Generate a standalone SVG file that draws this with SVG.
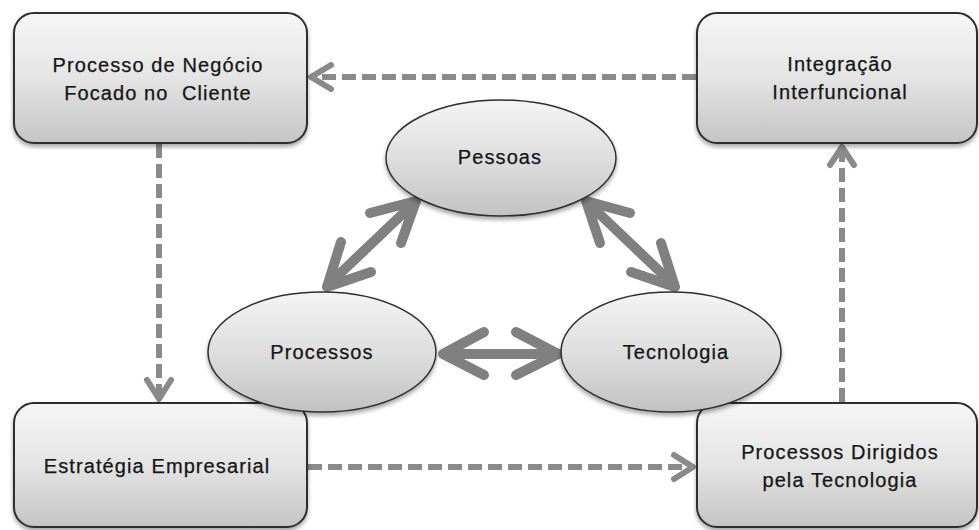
<svg xmlns="http://www.w3.org/2000/svg" width="979" height="530" viewBox="0 0 979 530">
  <defs>
    <linearGradient id="boxFill" x1="0" y1="0" x2="0" y2="1">
      <stop offset="0" stop-color="#f6f6f6"/>
      <stop offset="0.5" stop-color="#e4e4e4"/>
      <stop offset="1" stop-color="#c4c4c4"/>
    </linearGradient>
    <linearGradient id="ovalFill" x1="0" y1="0" x2="0" y2="1">
      <stop offset="0" stop-color="#f4f4f4"/>
      <stop offset="0.5" stop-color="#dedede"/>
      <stop offset="1" stop-color="#c2c2c2"/>
    </linearGradient>
    <filter id="shadow" x="-10%" y="-10%" width="120%" height="130%">
      <feGaussianBlur in="SourceAlpha" stdDeviation="2"/>
      <feOffset dx="0" dy="3" result="b"/>
      <feComponentTransfer><feFuncA type="linear" slope="0.35"/></feComponentTransfer>
      <feMerge><feMergeNode/><feMergeNode in="SourceGraphic"/></feMerge>
    </filter>
  </defs>
  <style>
    .box { fill: url(#boxFill); stroke: #2e2e2e; stroke-width: 2; filter: url(#shadow); }
    .oval { fill: url(#ovalFill); stroke: #2e2e2e; stroke-width: 1.5; filter: url(#shadow); }
    .label { font-family: "Liberation Sans", Arial, sans-serif; font-size: 20px; letter-spacing: 1.1px; fill: #151515; stroke: #151515; stroke-width: 0.25; text-anchor: middle; }
    .dash { fill: none; stroke: #8a8a8a; stroke-width: 6; stroke-dasharray: 14 6; }
    .head { fill: none; stroke: #8a8a8a; stroke-width: 6; stroke-linecap: round; stroke-linejoin: round; }
    .link { fill: none; stroke: #808080; stroke-width: 10; stroke-linecap: round; stroke-linejoin: round; }
  </style>
  <rect width="979" height="530" fill="#ffffff"/>

  <!-- dashed flow around the outer boxes, with the double arrows between the ovals -->
  <g id="connectors">
    <!-- Integração -> Processo de Negócio -->
    <line class="dash" x1="696" y1="77" x2="314" y2="77"/>
    <polyline class="head" points="331,65 311,77 331,89"/>
    <!-- Processo de Negócio -> Estratégia -->
    <line class="dash" x1="159" y1="144" x2="159" y2="396"/>
    <polyline class="head" points="147,380 159,399 171,380"/>
    <!-- Estratégia -> Processos Dirigidos -->
    <line class="dash" x1="308" y1="467" x2="690" y2="467"/>
    <polyline class="head" points="674,455 693,467 674,479"/>
    <!-- Processos Dirigidos -> Integração -->
    <line class="dash" x1="842" y1="402" x2="842" y2="150"/>
    <polyline class="head" points="830,165 842,147 854,165"/>

    <!-- Processos <-> Pessoas -->
    <line class="link" x1="328" y1="285" x2="414" y2="203"/>
    <polyline class="link" points="370,213 416,201 401,243"/>
    <polyline class="link" points="341,242 327,287 371,272"/>
    <!-- Pessoas <-> Tecnologia -->
    <line class="link" x1="588" y1="203" x2="674" y2="285"/>
    <polyline class="link" points="630,213 586,201 600,243"/>
    <polyline class="link" points="661,243 675,287 631,272"/>
    <!-- Processos <-> Tecnologia -->
    <line class="link" x1="444" y1="354" x2="558" y2="354"/>
    <polyline class="link" points="484,332 443,354 484,375"/>
    <polyline class="link" points="516,332 558,354 516,375"/>
  </g>

  <g id="processo-negocio">
    <rect class="box" x="14" y="13" width="293" height="130" rx="20"/>
    <text class="label" x="158" y="72">Processo de Negócio</text>
    <text class="label" x="158" y="100" xml:space="preserve">Focado no  Cliente</text>
  </g>

  <g id="integracao">
    <rect class="box" x="697" y="13" width="280" height="130" rx="20"/>
    <text class="label" x="840" y="71">Integração</text>
    <text class="label" x="840" y="99">Interfuncional</text>
  </g>

  <g id="estrategia">
    <rect class="box" x="14" y="403" width="293" height="124" rx="20"/>
    <text class="label" x="157" y="473">Estratégia Empresarial</text>
  </g>

  <g id="processos-dirigidos">
    <rect class="box" x="697" y="403" width="280" height="124" rx="20"/>
    <text class="label" x="840" y="459">Processos Dirigidos</text>
    <text class="label" x="840" y="487">pela Tecnologia</text>
  </g>

  <g id="pessoas">
    <ellipse class="oval" cx="501" cy="158" rx="115" ry="58"/>
    <text class="label" x="500" y="164">Pessoas</text>
  </g>

  <g id="processos">
    <ellipse class="oval" cx="322" cy="352" rx="114" ry="60"/>
    <text class="label" x="322" y="359">Processos</text>
  </g>

  <g id="tecnologia">
    <ellipse class="oval" cx="671" cy="352" rx="110" ry="60"/>
    <text class="label" x="676" y="359">Tecnologia</text>
  </g>
</svg>
